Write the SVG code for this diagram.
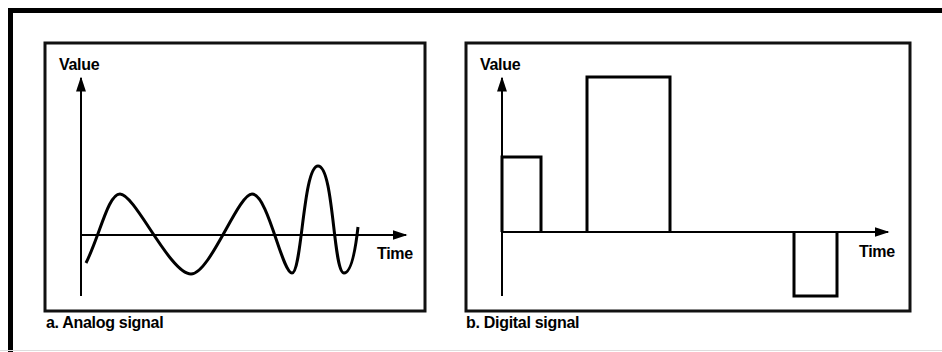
<svg xmlns="http://www.w3.org/2000/svg" width="942" height="352" viewBox="0 0 942 352">
<style>
.lbl{font-family:"Liberation Sans",Arial,sans-serif;font-weight:bold;font-size:16px;fill:#000;letter-spacing:-0.3px}
.panel{fill:none;stroke:#111;stroke-width:3}
.axis{fill:none;stroke:#000;stroke-width:2}
.sig{fill:none;stroke:#000;stroke-width:3;stroke-linejoin:miter}
</style>
<defs>
<marker id="arrBig" viewBox="0 0 10 10" refX="9" refY="5" markerWidth="15" markerHeight="15" markerUnits="userSpaceOnUse" orient="auto">
<path d="M0,1.7 L10,5 L0,8.3 z" fill="#000"/>
</marker>
</defs>
<rect width="942" height="352" fill="#fff"/>
<g id="frame">
<line x1="10.5" y1="8" x2="10.5" y2="352" stroke="#000" stroke-width="5"/>
<line x1="8" y1="10.5" x2="942" y2="10.5" stroke="#000" stroke-width="5"/>
<line x1="0" y1="350.5" x2="942" y2="350.5" stroke="#ddd" stroke-width="1"/>
</g>
<g id="panel-a">
<rect class="panel" x="45" y="43" width="380" height="268"/>
<text class="lbl" x="59" y="70">Value</text>
<text class="lbl" x="377" y="259">Time</text>
<text class="lbl" x="46" y="328">a. Analog signal</text>
</g>
<g id="panel-b">
<rect class="panel" x="466" y="43" width="444" height="268"/>
<text class="lbl" x="480" y="70">Value</text>
<text class="lbl" x="859" y="257">Time</text>
<text class="lbl" x="466" y="328">b. Digital signal</text>
</g>
<g id="connectors">
<line class="axis" x1="81" y1="296" x2="81" y2="78" marker-end="url(#arrBig)"/>
<line class="axis" x1="81" y1="235" x2="406" y2="235" marker-end="url(#arrBig)"/>
<path class="sig" d="M86,263 C100,235 108,194 120,194 C135,194 170,274 191,274 C210,274 238,194 252,194 C268,194 282,273 292,273 C302,273 303,166 318,166 C334,166 333,273 344,273 C352,273 356,245 358,227"/>
<line class="axis" x1="502" y1="296" x2="502" y2="78" marker-end="url(#arrBig)"/>
<line class="axis" x1="502" y1="232" x2="888" y2="232" marker-end="url(#arrBig)"/>
<polyline class="sig" points="502,232 502,157 541,157 541,232"/>
<polyline class="sig" points="587,232 587,77 670,77 670,232"/>
<polyline class="sig" points="794,232 794,296 837,296 837,232"/>
</g>
</svg>
